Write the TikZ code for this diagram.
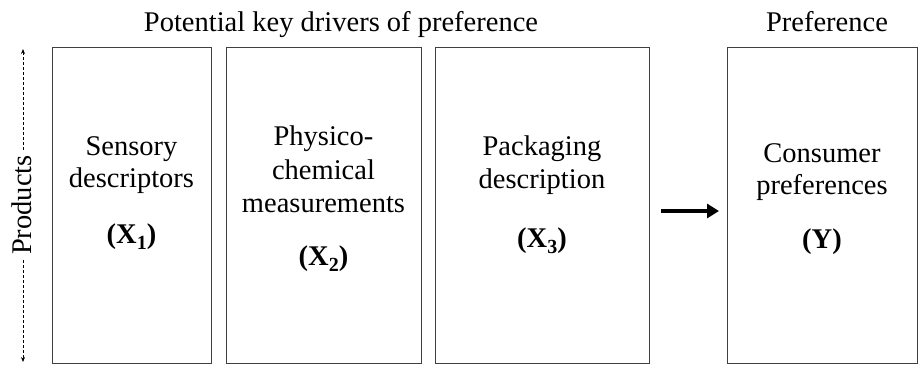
\documentclass[tikz,border=0pt]{standalone}
\usepackage{fontspec}
\setmainfont{Liberation Serif}
\usetikzlibrary{arrows.meta}
\newcommand{\mysub}[1]{\raisebox{-0.22em}{\fontsize{20}{20}\selectfont #1}}
\begin{document}
\begin{tikzpicture}[x=1pt,y=-1pt,
  box/.style={draw=black!75, line width=1pt, anchor=north west, inner sep=0pt},
  lbl/.style={anchor=base, inner sep=0pt, font=\fontsize{28.5}{32}\selectfont},
  head/.style={anchor=base, inner sep=0pt, font=\fontsize{28.5}{32}\selectfont},
  dasharrow/.style={densely dashed, line width=0.8pt, -{Stealth[length=5pt,width=4pt]}},
  bigarrow/.style={line width=4pt, -{Triangle[length=12pt,width=14pt]}}]
\useasboundingbox (0,0) rectangle (919,365);
% boxes
\node[box, minimum width=159pt, minimum height=316pt] (b1) at (52,47) {};
\node[box, minimum width=195pt, minimum height=316pt] (b2) at (226,47) {};
\node[box, minimum width=214pt, minimum height=316pt] (b3) at (435,47) {};
\node[box, minimum width=190pt, minimum height=316pt] (b4) at (727,47) {};
% headings
\node[head] (h1) at (341,31) {Potential key drivers of preference};
\node[head] (h2) at (827,31) {Preference};
% box 1
\node[lbl] (t11) at (131.5,155) {Sensory};
\node[lbl] (t12) at (131.5,187) {descriptors};
\node[lbl] (t13) at (131.5,243) {\textbf{(X\mysub{1})}};
% box 2
\node[lbl] (t21) at (323.5,145) {Physico-};
\node[lbl] (t22) at (323.5,179) {chemical};
\node[lbl] (t23) at (323.5,212) {measurements};
\node[lbl] (t24) at (323.5,265) {\textbf{(X\mysub{2})}};
% box 3
\node[lbl] (t31) at (542,155) {Packaging};
\node[lbl] (t32) at (542,188) {description};
\node[lbl] (t33) at (542,247) {\textbf{(X\mysub{3})}};
% box 4
\node[lbl] (t41) at (822,162) {Consumer};
\node[lbl] (t42) at (822,194) {preferences};
\node[lbl] (t43) at (822,248) {\textbf{(Y)}};
% big arrow
\coordinate (as) at (661,211);
\coordinate (ae) at (719,211);
\draw[bigarrow] (as) -- (ae);
% products axis
\node[rotate=90, inner sep=5pt, font=\fontsize{28.5}{32}\selectfont] (prod) at (22,205) {Products};
\coordinate (ptop) at (23,49);
\coordinate (pbot) at (23,362);
\draw[dasharrow] (prod.east -| ptop) -- (ptop);
\draw[dasharrow] (prod.west -| pbot) -- (pbot);
\end{tikzpicture}
\end{document}
